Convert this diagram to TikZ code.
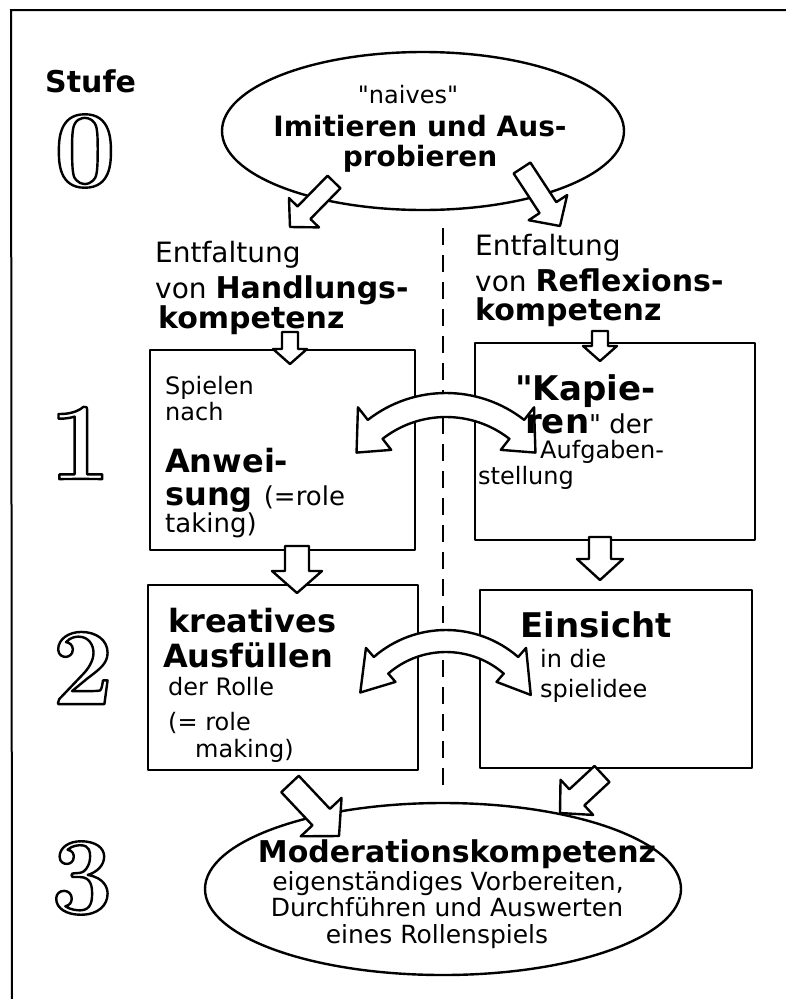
\documentclass[tikz,border=0pt]{standalone}
\usepackage{fontspec}
\newfontfamily\hand{DejaVu Sans}
\usetikzlibrary{calc,shapes.geometric}
\newcommand\handsz[1]{\fontsize{#1}{#1}\selectfont}
\newcommand\outlinedigit[1]{\special{pdf:literal direct 1 Tr 2.4 w 1 j}#1\special{pdf:literal direct 0 Tr}}
\tikzset{
 ln/.style={line width=2.4pt, line cap=round, line join=round},
 blk/.style={ln, fill=white},
 tx/.style={inner sep=0pt, anchor=base west, font=\hand},
 tc/.style={inner sep=0pt, anchor=base, font=\hand},
 dig/.style={inner sep=0pt, font=\fontsize{110}{110}\selectfont\bfseries},
 stage/.style={ln, draw, fill=none, inner sep=0pt},
}
\newcommand\blockarr[4]{%
  \coordinate (#1-b) at ($(#1-h)!#4!(#1-t)$);
  \draw[blk] ($(#1-t)!#2!90:(#1-h)$) -- ($(#1-b)!#2!90:(#1-h)$) -- ($(#1-b)!#3!90:(#1-h)$) -- (#1-h)
   -- ($(#1-b)!#3!-90:(#1-h)$) -- ($(#1-b)!#2!-90:(#1-h)$) -- ($(#1-t)!#2!-90:(#1-h)$) -- cycle;}
\begin{document}
\begin{tikzpicture}[x=1pt,y=-1pt]
\useasboundingbox (0,0) rectangle (786,999);
% frame
\coordinate (fa) at (786,10);
\coordinate (fb) at (11,10);
\coordinate (fc) at (12,999);
\draw[line width=2pt] (fa) -- (fb) -- (fc);
% dashed divider
\coordinate (dtop) at (443,228);
\coordinate (dbot) at (443,792);
\draw[line width=2pt, dash pattern=on 17pt off 10pt] (dtop) -- (dbot);
% boxes
\node[stage, minimum width=265pt, minimum height=200pt] (L1) at (282.5,450) {};
\node[stage, minimum width=280pt, minimum height=197pt] (R1) at (615,441.5) {};
\node[stage, minimum width=270pt, minimum height=185pt] (L2) at (283,677.5) {};
\node[stage, minimum width=272pt, minimum height=178pt] (R2) at (616,679) {};
% ellipses
\node[stage, ellipse, minimum width=402pt, minimum height=158pt] (top) at (423,131) {};
\node[stage, ellipse, minimum width=476pt, minimum height=172pt] (bot) at (443,889) {};
% straight block arrows
\coordinate (a1-t) at (334,182); \coordinate (a1-h) at (290,227);
\blockarr{a1}{9pt}{21pt}{20pt}
\coordinate (a2-t) at (522,168); \coordinate (a2-h) at (560,226);
\blockarr{a2}{10pt}{23pt}{22pt}
\coordinate (a3-t) at (290,332); \coordinate (a3-h) at (290,364);
\blockarr{a3}{8pt}{17pt}{15pt}
\coordinate (a4-t) at (600,331); \coordinate (a4-h) at (600,361);
\blockarr{a4}{8pt}{17pt}{15pt}
\coordinate (a5-t) at (297,546); \coordinate (a5-h) at (297,593);
\blockarr{a5}{12pt}{25pt}{22pt}
\coordinate (a6-t) at (600,537); \coordinate (a6-h) at (600,580);
\blockarr{a6}{11pt}{23pt}{21pt}
\coordinate (a7-t) at (290,784); \coordinate (a7-h) at (339,836);
\blockarr{a7}{12pt}{28pt}{26pt}
\coordinate (a8-t) at (602,774); \coordinate (a8-h) at (560,813);
\blockarr{a8}{11pt}{24pt}{23pt}
% curved double arrows
\coordinate (C1) at (446,520);
\draw[blk] ($(C1)+(-52:127)$) arc[start angle=-52, end angle=-128, radius=127]
  -- ($(C1)+(-128:143)$) -- ($(C1)+(-143:112)$) -- ($(C1)+(-128:89)$) -- ($(C1)+(-128:103)$)
  arc[start angle=-128, end angle=-52, radius=103]
  -- ($(C1)+(-52:89)$) -- ($(C1)+(-37:112)$) -- ($(C1)+(-52:143)$) -- cycle;
\coordinate (C2) at (446,740);
\draw[blk] ($(C2)+(-49:110)$) arc[start angle=-49, end angle=-131, radius=110]
  -- ($(C2)+(-131:122)$) -- ($(C2)+(-151:98)$) -- ($(C2)+(-131:77)$) -- ($(C2)+(-131:88)$)
  arc[start angle=-131, end angle=-49, radius=88]
  -- ($(C2)+(-49:77)$) -- ($(C2)+(-28:96)$) -- ($(C2)+(-49:122)$) -- cycle;
% stage digits (outlined)
\node[dig] (dig0) at (85,151) {\outlinedigit{0}};
\node[dig] (dig1) at (80,443) {\outlinedigit{1}};
\node[dig] (dig2) at (83,668) {\outlinedigit{2}};
\node[dig] (dig3) at (82,878) {\outlinedigit{3}};
% texts
\node[tx, font=\hand\bfseries\handsz{30}] (stufe) at (45,92) {Stufe};
\node[tc, font=\hand\handsz{24}] (naiv) at (408,103) {"naives"};
\node[tc, font=\hand\bfseries\handsz{28}] (imit) at (420,136) {Imitieren und Aus-};
\node[tc, font=\hand\bfseries\handsz{28}] (prob) at (420,166) {probieren};
\node[tx, font=\hand\handsz{28}] (le1) at (155,262) {Entfaltung};
\node[tx] (le2) at (155,298) {\handsz{28}von \bfseries\handsz{30}Handlungs-};
\node[tx, font=\hand\bfseries\handsz{30}] (le3) at (158,328) {kompetenz};
\node[tx, font=\hand\handsz{28}] (re1) at (475,255) {Entfaltung};
\node[tx] (re2) at (475,291) {\handsz{28}von \bfseries\handsz{30}Reflexions-};
\node[tx, font=\hand\bfseries\handsz{30}] (re3) at (475,320) {kompetenz};
% box L1
\node[tx, font=\hand\handsz{24}] (l11) at (165,394) {Spielen};
\node[tx, font=\hand\handsz{24}] (l12) at (165,420) {nach};
\node[tx, font=\hand\bfseries\handsz{32}] (l13) at (165,472) {Anwei-};
\node[tx] (l14) at (165,505) {\bfseries\handsz{32}sung \mdseries\handsz{26}(=role};
\node[tx, font=\hand\handsz{26}] (l15) at (165,532) {taking)};
% box R1
\node[tx, font=\hand\bfseries\handsz{34}] (r11) at (515,400) {"Kapie-};
\node[tx] (r12) at (525,433) {\bfseries\handsz{34}ren\mdseries\handsz{26}" der};
\node[tx, font=\hand\handsz{24}] (r13) at (540,458) {Aufgaben-};
\node[tx, font=\hand\handsz{24}] (r14) at (478,484) {stellung};
% box L2
\node[tx, font=\hand\bfseries\handsz{32}] (l21) at (168,632) {kreatives};
\node[tx, font=\hand\bfseries\handsz{32}] (l22) at (163,667) {Ausfüllen};
\node[tx, font=\hand\handsz{24}] (l23) at (168,695) {der Rolle};
\node[tx, font=\hand\handsz{24}] (l24) at (168,730) {(= role};
\node[tx, font=\hand\handsz{24}] (l25) at (195,757) {making)};
% box R2
\node[tx, font=\hand\bfseries\handsz{34}] (r21) at (520,637) {Einsicht};
\node[tx, font=\hand\handsz{24}] (r22) at (540,667) {in die};
\node[tx, font=\hand\handsz{24}] (r23) at (540,697) {spielidee};
% bottom ellipse text
\node[tc, font=\hand\bfseries\handsz{30}] (mod) at (457,862) {Moderationskompetenz};
\node[tc, font=\hand\handsz{25}] (b1) at (448,890) {eigenständiges Vorbereiten,};
\node[tc, font=\hand\handsz{25}] (b2) at (447,916) {Durchführen und Auswerten};
\node[tc, font=\hand\handsz{25}] (b3) at (437,943) {eines Rollenspiels};
\end{tikzpicture}
\end{document}
